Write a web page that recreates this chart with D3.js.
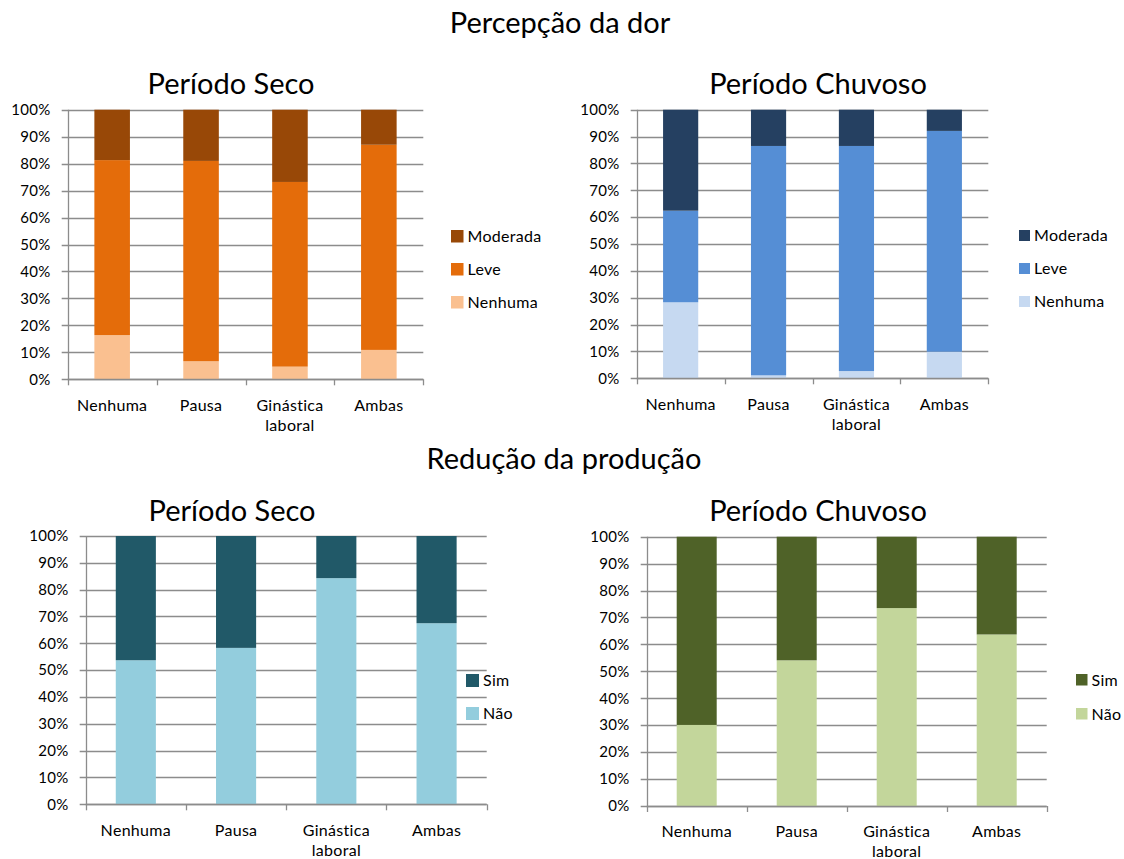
<!DOCTYPE html>
<html>
<head>
<meta charset="utf-8">
<script src="https://cdn.jsdelivr.net/npm/d3@7"></script>
<style>
  html, body { margin: 0; padding: 0; background: #fff; }
  svg { display: block; font-family: Lato, "Open Sans", sans-serif; }
</style>
</head>
<body>
<svg id="fig" width="1124" height="859"></svg>
<script>
// Intervention groups shown on every x axis
const categories = ["Nenhuma", "Pausa", "Ginástica laboral", "Ambas"];

// Pain perception (%), stacked bottom to top: Nenhuma, Leve, Moderada
const painKeys = ["Nenhuma", "Leve", "Moderada"];
const dorSecoNenhuma  = [16.4, 6.7, 4.7, 10.9];
const dorSecoLeve     = [64.9, 74.3, 68.5, 76.1];
const dorSecoModerada = [18.7, 19.0, 26.8, 13.0];
const dorChuvaNenhuma  = [28.3, 1.1, 2.7, 9.9];
const dorChuvaLeve     = [34.1, 85.4, 83.8, 82.2];
const dorChuvaModerada = [37.6, 13.5, 13.5, 7.9];

// Production loss (%), stacked bottom to top: Não, Sim
const prodKeys = ["Não", "Sim"];
const prodSecoNao  = [53.7, 58.3, 84.3, 67.5];
const prodSecoSim  = [46.3, 41.7, 15.7, 32.5];
const prodChuvaNao = [30.1, 54.1, 73.5, 63.7];
const prodChuvaSim = [69.9, 45.9, 26.5, 36.3];

// Shared percentage axis
const yTicks = [0, 10, 20, 30, 40, 50, 60, 70, 80, 90, 100];
const yTickLabels = ["0%", "10%", "20%", "30%", "40%", "50%", "60%", "70%", "80%", "90%", "100%"];

const svg = d3.select("#fig");
const gridColor = "#8c8c8c";

function rows(keys, seriesList) {
  return categories.map((c, i) => {
    const r = { cat: c };
    keys.forEach((k, j) => { r[k] = seriesList[j][i]; });
    return r;
  });
}

function drawPanel(opt) {
  const { x0, x1, yTop, yBottom, keys, series, colors, title, titleX, titleY,
          legendX, legendY, legendGap, swatch, labelY } = opt;
  const g = svg.append("g");

  const x = d3.scaleBand().domain(categories).range([x0, x1])
    .paddingInner(0.6).paddingOuter(0.3);
  const y = d3.scaleLinear().domain([0, 100]).range([yBottom, yTop]);
  const step = x.step();

  // horizontal gridlines + left ticks
  g.append("g").selectAll("line").data(yTicks).join("line")
    .attr("x1", x0 - 6).attr("x2", x1)
    .attr("y1", d => Math.round(y(d)) + 0.5).attr("y2", d => Math.round(y(d)) + 0.5)
    .attr("stroke", gridColor).attr("stroke-width", 1.3);

  // y tick labels
  g.append("g").selectAll("text").data(yTicks).join("text")
    .attr("x", x0 - 17).attr("y", d => y(d)).attr("dy", "0.35em")
    .attr("text-anchor", "end").attr("font-size", 15).attr("letter-spacing", 0.3)
    .attr("fill", "#000")
    .text((d, i) => yTickLabels[i]);

  // stacked bars
  const stacked = d3.stack().keys(keys)(rows(keys, series));
  g.append("g").selectAll("g").data(stacked).join("g")
    .attr("fill", (d, i) => colors[i])
    .selectAll("rect").data(d => d).join("rect")
    .attr("x", d => x(d.data.cat)).attr("width", x.bandwidth())
    .attr("y", d => y(d[1])).attr("height", d => y(d[0]) - y(d[1]));

  // axes lines
  g.append("line").attr("x1", Math.round(x0) + 0.5).attr("x2", Math.round(x0) + 0.5)
    .attr("y1", yTop).attr("y2", yBottom)
    .attr("stroke", gridColor).attr("stroke-width", 1.3);
  g.append("line").attr("x1", x0).attr("x2", x1)
    .attr("y1", Math.round(yBottom) + 0.5).attr("y2", Math.round(yBottom) + 0.5)
    .attr("stroke", gridColor).attr("stroke-width", 1.3);
  g.append("g").selectAll("line").data(d3.range(categories.length + 1)).join("line")
    .attr("x1", i => Math.round(x0 + i * step) + 0.5).attr("x2", i => Math.round(x0 + i * step) + 0.5)
    .attr("y1", yBottom).attr("y2", yBottom + 6)
    .attr("stroke", gridColor).attr("stroke-width", 1.3);

  // category labels (multi-word labels wrap)
  g.append("g").selectAll("text").data(categories).join("text")
    .attr("text-anchor", "middle").attr("font-size", 16).attr("letter-spacing", 0.3)
    .attr("fill", "#000")
    .each(function (d) {
      const words = d.split(" ");
      const cx = x(d) + x.bandwidth() / 2;
      d3.select(this).selectAll("tspan").data(words).join("tspan")
        .attr("x", cx).attr("y", (w, i) => labelY + i * 20).text(w => w);
    });

  // chart title
  g.append("text").attr("x", titleX).attr("y", titleY).attr("text-anchor", "middle")
    .attr("font-size", 29).attr("fill", "#000").text(title);

  // legend (top series first)
  const leg = g.append("g");
  const order = keys.map((k, i) => ({ k, c: colors[i] })).reverse();
  order.forEach((o, i) => {
    leg.append("rect").attr("x", legendX).attr("y", legendY + i * legendGap)
      .attr("width", swatch).attr("height", swatch).attr("fill", o.c);
    leg.append("text").attr("x", legendX + swatch + 4).attr("y", legendY + i * legendGap + swatch / 2)
      .attr("dy", "0.36em").attr("font-size", 16).attr("letter-spacing", 0.3)
      .attr("fill", "#000").text(o.k);
  });
}

// section headings
svg.append("text").attr("x", 560).attr("y", 33).attr("text-anchor", "middle")
  .attr("font-size", 29).text("Percepção da dor");
svg.append("text").attr("x", 564).attr("y", 469).attr("text-anchor", "middle")
  .attr("font-size", 29).text("Redução da produção");

drawPanel({
  x0: 67.7, x1: 423.3, yTop: 109.7, yBottom: 379.3,
  keys: painKeys, series: [dorSecoNenhuma, dorSecoLeve, dorSecoModerada],
  colors: ["#FAC090", "#E46C0A", "#984807"],
  title: "Período Seco", titleX: 231, titleY: 94,
  legendX: 451, legendY: 230, legendGap: 33, swatch: 12.5, labelY: 411
});
drawPanel({
  x0: 636.7, x1: 988.3, yTop: 109.7, yBottom: 378.3,
  keys: painKeys, series: [dorChuvaNenhuma, dorChuvaLeve, dorChuvaModerada],
  colors: ["#C6D9F1", "#558ED5", "#254061"],
  title: "Período Chuvoso", titleX: 818, titleY: 94,
  legendX: 1019, legendY: 230, legendGap: 33, swatch: 11, labelY: 410
});
drawPanel({
  x0: 85.7, x1: 486.7, yTop: 536, yBottom: 804.3,
  keys: prodKeys, series: [prodSecoNao, prodSecoSim],
  colors: ["#93CDDD", "#215968"],
  title: "Período Seco", titleX: 232, titleY: 521,
  legendX: 466, legendY: 674, legendGap: 33, swatch: 13, labelY: 836
});
drawPanel({
  x0: 646.7, x1: 1046.7, yTop: 536.7, yBottom: 806,
  keys: prodKeys, series: [prodChuvaNao, prodChuvaSim],
  colors: ["#C3D69B", "#4F6228"],
  title: "Período Chuvoso", titleX: 818, titleY: 521,
  legendX: 1076, legendY: 674, legendGap: 34, swatch: 11.5, labelY: 837
});
</script>
</body>
</html>
